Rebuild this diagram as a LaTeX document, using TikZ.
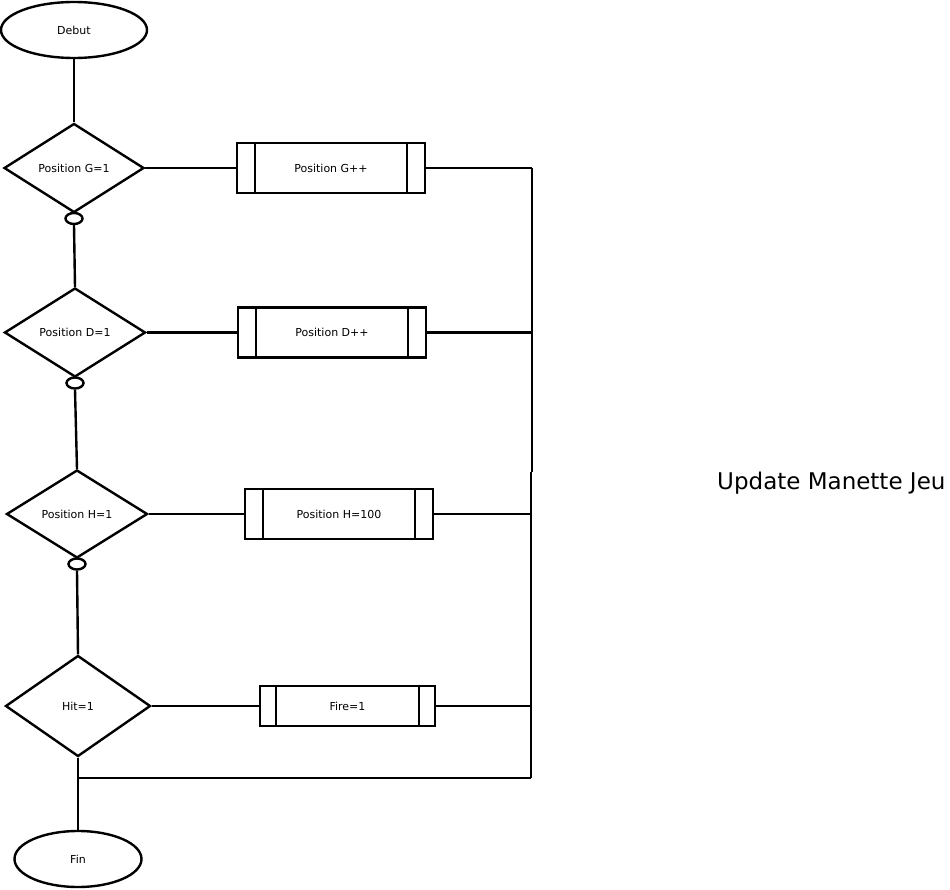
\documentclass[tikz,border=0pt]{standalone}
\usepackage{fontspec}
\setmainfont{DejaVu Sans}
\usetikzlibrary{shapes.geometric}
\begin{document}
\begin{tikzpicture}[x=1pt,y=-1pt,line width=2.4pt,
  lbl/.style={font=\fontsize{11}{13}\selectfont},
  term/.style={draw,ellipse,lbl,inner sep=0pt},
  cond/.style={draw,diamond,lbl,inner sep=0pt,minimum width=140pt,minimum height=89pt},
  knot/.style={draw,ellipse,inner sep=0pt,minimum width=17pt,minimum height=11pt},
  proc/.style={draw,rectangle,lbl,inner sep=0pt,minimum width=188pt,minimum height=50pt}]
\useasboundingbox (0,0) rectangle (950,890);
\fill[white] (0,0) rectangle (950,890);
% terminals
\node[term,minimum width=146pt,minimum height=56pt] (debut) at (74,30) {Debut};
\node[term,minimum width=127pt,minimum height=56pt] (fin) at (78,859) {Fin};
% decisions
\node[cond] (d1) at (74,168) {Position G=1};
\node[cond,minimum width=141pt] (d2) at (75,332.5) {Position D=1};
\node[cond,minimum width=141pt,minimum height=88pt] (d3) at (77,514) {Position H=1};
\node[cond,minimum width=145pt,minimum height=101pt] (d4) at (78,706) {Hit=1};
% knots
\node[knot] (k1) at (74,218.5) {};
\node[knot] (k2) at (75,383) {};
\node[knot] (k3) at (77,564) {};
% processes
\node[proc] (b1) at (331,168) {Position G++};
\node[proc] (b2) at (332,332.5) {Position D++};
\node[proc] (b3) at (339,514) {Position H=100};
\node[proc,minimum width=175pt,minimum height=40pt] (b4) at (347.5,706) {Fire=1};
\foreach \b/\s in {b1/19,b2/19,b3/19,b4/17}{
  \draw[line width=2pt] ([xshift=\s pt]\b.north west) -- ([xshift=\s pt]\b.south west);
  \draw[line width=2pt] ([xshift=-\s pt]\b.north east) -- ([xshift=-\s pt]\b.south east);
}
% right bus
\coordinate (r1) at (532,168);
\coordinate (r2) at (532,332.5);
\coordinate (rm) at (532,472);
\coordinate (rm2) at (531,472);
\coordinate (r3) at (531,514);
\coordinate (r4) at (531,706);
\coordinate (r5) at (531,778);
\coordinate (j) at (78,778);
% title
\node[font=\fontsize{23}{27}\selectfont,anchor=west,inner sep=0pt] (title) at (716,483) {Update Manette Jeu};
% connectors
\draw (debut.south) -- (d1.north);
\draw (d1.south) -- (k1.north);
\draw (k1.south) -- (d2.north);
\draw (d2.south) -- (k2.north);
\draw (k2.south) -- (d3.north);
\draw (d3.south) -- (k3.north);
\draw (k3.south) -- (d4.north);
\draw (d4.south) -- (fin.north);
\draw (d1.east) -- (b1.west);
\draw (d2.east) -- (b2.west);
\draw (d3.east) -- (b3.west);
\draw (d4.east) -- (b4.west);
\draw (b1.east) -- (r1);
\draw (b2.east) -- (r2);
\draw (b3.east) -- (r3);
\draw (b4.east) -- (r4);
\draw (r1) -- (rm);
\draw (rm2) -- (r5);
\draw (r5) -- (j);
\end{tikzpicture}
\end{document}
